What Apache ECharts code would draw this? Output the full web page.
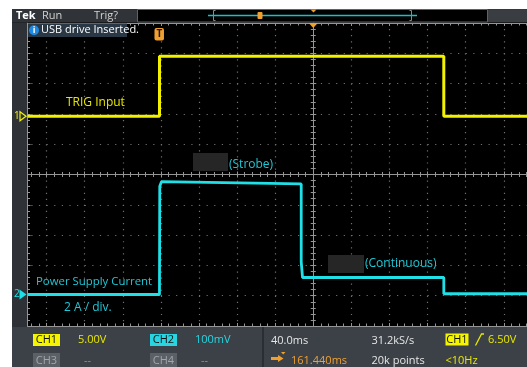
<!DOCTYPE html>
<html><head><meta charset="utf-8">
<script src="https://cdn.jsdelivr.net/npm/echarts@6/dist/echarts.min.js"></script>
<style>html,body{margin:0;padding:0;background:#fff;}#c{width:527px;height:367px;}</style>
</head><body><div id="c"></div>
<script>
// ---- data (time in ms after trigger, 40 ms/div, 15 divisions on screen) ----
const screenTimeMs = [-138.56, 461.44];
const ch1TimeMs = [-138.56, 0, 0, 298.5, 298.5, 461.44];
const ch1Volts  = [0, 0, 9.9, 9.9, 0, 0];
const ch2TimeMs = [-138.56, 0, 0.3, 2.1, 148.8, 148.8, 150.2, 298.5, 298.5, 461.44];
const ch2Amps   = [0, 0, 7.15, 7.45, 7.3, 2.15, 1.12, 1.12, 0.05, 0.05];
const ch1VoltRange = [-34.62, 15.38];   // 5 V/div, ground 1.92 div above centre
const ch2AmpRange  = [-2.08, 17.92];    // 2 A/div, ground 3.96 div below centre
const divRangeX = [-8, 8];
const divRangeY = [-5, 5];
const headerTexts = ['Tek', 'Run', 'Trig?'];
const noticeText = 'USB drive Inserted.';
const traceLabels = ['TRIG Input', '(Strobe)', '(Continuous)', 'Power Supply Current', '2 A / div.'];
const chanNames = ['CH1', 'CH2', 'CH3', 'CH4'];
const chanScales = ['5.00V', '100mV', '--', '--'];
const acqTexts = ['40.0ms', '31.2kS/s', '6.50V', '161.440ms', '20k points', '<10Hz'];

// ---- layout constants ----
const PL = 27.5, PT = 23, DX = 38.1, PH = 303, PW = 15 * DX;
const YEL = '#f2f200', CYA = '#1fe0e6', ORG = '#f0a030';
const GRID_DOT = '#707070', AX = '#959595';
const F = '"Open Sans", "Noto Sans", sans-serif';

const chart = echarts.init(document.getElementById('c'), null, {renderer: 'canvas'});
const noLab = {show: false};
const tick = (inside) => ({show: true, inside: inside, length: 3, lineStyle: {color: AX, width: 1}});
const minor = {show: true, splitNumber: 5, length: 2.5, lineStyle: {color: AX, width: 1}};
const gridBase = {outerBoundsMode: 'none', containLabel: false, show: false};

chart.setOption({
  animation: false,
  backgroundColor: '#000',
  grid: [
    Object.assign({left: PL - DX / 2, top: PT, width: PW + DX, height: PH}, gridBase),
    Object.assign({left: PL, top: PT, width: PW, height: PH}, gridBase),
    Object.assign({left: PL - DX / 2, top: PT, width: PW + DX, height: PH}, gridBase),
    Object.assign({left: PL, top: PT, width: PW, height: PH}, gridBase)
  ],
  xAxis: [
    {gridIndex: 0, type: 'value', min: divRangeX[0], max: divRangeX[1], interval: 1, position: 'bottom',
     axisLine: {show: true, onZero: true, onZeroAxisIndex: 0, lineStyle: {color: AX, width: 1}},
     axisTick: tick(true), minorTick: minor, axisLabel: noLab,
     splitLine: {show: true, lineStyle: {color: GRID_DOT, width: 1.2, type: [1.2, 4.86]}}},
    {gridIndex: 0, type: 'value', min: divRangeX[0], max: divRangeX[1], interval: 1, position: 'top',
     axisLine: {show: true, onZero: true, onZeroAxisIndex: 0, lineStyle: {color: AX, width: 1}},
     axisTick: tick(true), minorTick: minor, axisLabel: noLab, splitLine: {show: false}},
    {gridIndex: 1, type: 'value', min: screenTimeMs[0], max: screenTimeMs[1], show: false},
    {gridIndex: 2, type: 'value', min: divRangeX[0], max: divRangeX[1], interval: 1, position: 'bottom',
     axisLine: {show: true, onZero: false, lineStyle: {color: AX, width: 1}},
     axisTick: tick(true), minorTick: minor, axisLabel: noLab, splitLine: {show: false}},
    {gridIndex: 2, type: 'value', min: divRangeX[0], max: divRangeX[1], interval: 1, position: 'top',
     axisLine: {show: true, onZero: false, lineStyle: {color: AX, width: 1}},
     axisTick: tick(true), minorTick: minor, axisLabel: noLab, splitLine: {show: false}},
    {gridIndex: 3, type: 'value', min: 0, max: 1, show: false}
  ],
  yAxis: [
    {gridIndex: 0, type: 'value', min: divRangeY[0], max: divRangeY[1], interval: 1, position: 'left',
     axisLine: {show: true, onZero: true, onZeroAxisIndex: 0, lineStyle: {color: AX, width: 1}},
     axisTick: tick(true), minorTick: minor, axisLabel: noLab,
     splitLine: {show: true, lineStyle: {color: GRID_DOT, width: 1.2, type: [1.2, 6.42]}}},
    {gridIndex: 0, type: 'value', min: divRangeY[0], max: divRangeY[1], interval: 1, position: 'right',
     axisLine: {show: true, onZero: true, onZeroAxisIndex: 0, lineStyle: {color: AX, width: 1}},
     axisTick: tick(true), minorTick: minor, axisLabel: noLab, splitLine: {show: false}},
    {gridIndex: 1, type: 'value', min: ch1VoltRange[0], max: ch1VoltRange[1], show: false},
    {gridIndex: 1, type: 'value', min: ch2AmpRange[0], max: ch2AmpRange[1], position: 'right', show: false},
    {gridIndex: 2, type: 'value', min: divRangeY[0], max: divRangeY[1], show: false},
    {gridIndex: 3, type: 'value', min: divRangeY[0], max: divRangeY[1], interval: 1, position: 'left',
     axisLine: {show: true, onZero: false, lineStyle: {color: AX, width: 1}},
     axisTick: tick(true), minorTick: minor, axisLabel: noLab, splitLine: {show: false}}
  ],
  series: [
    {type: 'line', name: 'CH2', xAxisIndex: 2, yAxisIndex: 3, showSymbol: false, z: 3,
     data: ch2TimeMs.map((t, i) => [t, ch2Amps[i]]),
     lineStyle: {color: CYA, width: 2.8}},
    {type: 'line', name: 'CH1', xAxisIndex: 2, yAxisIndex: 2, showSymbol: false, z: 4,
     data: ch1TimeMs.map((t, i) => [t, ch1Volts[i]]),
     lineStyle: {color: YEL, width: 3}}
  ]
});

// ---- chrome (screen furniture) ----
const g1 = chart.convertToPixel({xAxisIndex: 2, yAxisIndex: 2}, [screenTimeMs[0], 0]);
const g2 = chart.convertToPixel({xAxisIndex: 2, yAxisIndex: 3}, [screenTimeMs[0], 0]);
const trigX = chart.convertToPixel({xAxisIndex: 2, yAxisIndex: 2}, [0, 0])[0];
const centerX = chart.convertToPixel({xAxisIndex: 0, yAxisIndex: 0}, [0, 0])[0];

const T = (text, x, y, fill, size, extra) => Object.assign({type: 'text', z: 120,
  style: Object.assign({text: text, x: x, y: y, fill: fill, font: (size || 11) + 'px ' + F, verticalAlign: 'middle'}, extra || {})});
const R = (x, y, w, h, fill, extra) => Object.assign({type: 'rect', z: 110,
  shape: {x: x, y: y, width: w, height: h, r: (extra && extra.r) || 0}, style: {fill: fill, stroke: extra && extra.stroke, lineWidth: 1}});

const els = [
  R(0, 0, 12, 367, '#ffffff'),
  R(12, 0, 515, 9, '#ffffff'),
  R(12, 9, 515, 13.5, '#303438'),
  R(137.5, 9.5, 350, 12.5, '#000000', {stroke: '#5f6367'}),
  R(488, 9.5, 39, 12.5, '#3a3e42'),
  {type: 'line', z: 118, shape: {x1: 208, y1: 15.5, x2: 417, y2: 15.5}, style: {stroke: '#19c0c8', lineWidth: 1.4}},
  {type: 'polyline', z: 118, shape: {points: [[215.5, 10.5], [213.5, 10.5], [213.5, 20.5], [215.5, 20.5]]}, style: {stroke: '#8a8a8a', fill: null}},
  {type: 'polyline', z: 118, shape: {points: [[409.5, 10.5], [411.5, 10.5], [411.5, 20.5], [409.5, 20.5]]}, style: {stroke: '#8a8a8a', fill: null}},
  Object.assign(R(257.5, 12, 5, 7, ORG, {r: 1}), {z: 119}),
  {type: 'polygon', z: 119, shape: {points: [[310.5, 9.5], [316.5, 9.5], [313.5, 12.5]]}, style: {fill: ORG}},
  T(headerTexts[0], 16, 15.5, '#ffffff', 11, {font: 'bold 11px ' + F}),
  T(headerTexts[1], 42, 15.5, '#d0d0d0', 11),
  T(headerTexts[2], 94, 15.5, '#d0d0d0', 11),
  // left strip and footer
  R(12, 22.5, 15, 305, '#2e3236'),
  R(12, 327, 515, 40, '#3b4147'),
  {type: 'line', z: 115, shape: {x1: 263, y1: 327, x2: 263, y2: 367}, style: {stroke: '#2a2e32', lineWidth: 2}},
  // notice
  R(28, 23.5, 99, 13.5, '#2a3744'),
  {type: 'circle', z: 115, shape: {cx: 34, cy: 30.2, r: 5}, style: {fill: '#1e88e5'}},
  T('i', 34, 30.4, '#ffffff', 9, {align: 'center', font: 'bold 9px ' + F}),
  T(noticeText, 41, 30.2, '#ffffff', 11),
  // trigger position markers
  Object.assign(R(trigX - 5, 28, 9.5, 12.5, ORG, {r: 2}), {z: 116}),
  T('T', trigX - 0.2, 34.3, '#1a1a1a', 10, {align: 'center', font: 'bold 10px ' + F}),
  {type: 'polygon', z: 116, shape: {points: [[centerX - 4.5, 23], [centerX + 4.5, 23], [centerX, 28]]}, style: {fill: ORG}},
  // redaction boxes
  R(193, 153, 35, 18, '#262626'),
  R(328, 255, 36, 18, '#262626'),
  // trace labels
  T(traceLabels[0], 66, 103, '#e6e600', 12),
  T(traceLabels[1], 229, 164.5, '#1fc8d6', 12),
  T(traceLabels[2], 365, 264, '#1fc8d6', 12),
  T(traceLabels[3], 36, 282, '#1fc8d6', 11.4),
  T(traceLabels[4], 64, 308, '#1fc8d6', 12),
  // ground markers
  T('1', 14, g1[1], YEL, 10),
  {type: 'polygon', z: 120, shape: {points: [[20, g1[1] - 4.5], [20, g1[1] + 4.5], [26, g1[1]]]}, style: {stroke: YEL, fill: null, lineWidth: 1.2}},
  T('2', 14, g2[1], CYA, 10),
  {type: 'polygon', z: 120, shape: {points: [[19.5, g2[1] - 5], [19.5, g2[1] + 5], [26.5, g2[1]]]}, style: {fill: CYA}},
  // footer: channels
  R(33, 334, 27, 12, '#f5f500'),
  T(chanNames[0], 46.5, 340.2, '#111', 11, {align: 'center'}),
  T(chanScales[0], 78, 340.2, '#e8e800', 11),
  R(150, 334, 27, 12, '#27d6e2'),
  T(chanNames[1], 163.5, 340.2, '#111', 11, {align: 'center'}),
  T(chanScales[1], 195, 340.2, '#27d6e2', 11),
  R(33, 353, 27, 14, '#5a6066'),
  T(chanNames[2], 46.5, 360.5, '#a0a6ab', 11, {align: 'center'}),
  T(chanScales[2], 84, 360.5, '#8a9095', 11),
  R(150, 353, 27, 14, '#5a6066'),
  T(chanNames[3], 163.5, 360.5, '#a0a6ab', 11, {align: 'center'}),
  T(chanScales[3], 201, 360.5, '#8a9095', 11),
  // footer: acquisition / trigger
  T(acqTexts[0], 271, 340.5, '#e6e6e6', 11),
  T(acqTexts[1], 371.5, 340.5, '#e6e6e6', 11),
  R(445.5, 333.5, 23, 12, '#f5f500'),
  T(chanNames[0], 457, 339.6, '#111', 11, {align: 'center'}),
  {type: 'polyline', z: 120, shape: {points: [[475.5, 345.5], [481.5, 334], [484, 334]]}, style: {stroke: '#e8e800', lineWidth: 1.3, fill: null}},
  T(acqTexts[2], 488, 339.8, '#e8e800', 11),
  {type: 'polygon', z: 120, shape: {points: [[271, 357], [278, 357], [278, 355], [283.5, 358.5], [278, 362], [278, 360], [271, 360]]}, style: {fill: ORG}},
  {type: 'polygon', z: 120, shape: {points: [[281, 352], [285.5, 352], [283.2, 354.6]]}, style: {fill: ORG}},
  T(acqTexts[3], 291, 360.8, ORG, 11),
  T(acqTexts[4], 371.5, 360.8, '#e6e6e6', 11),
  T(acqTexts[5], 445.5, 360.8, '#e8e800', 11)
];
chart.setOption({graphic: {elements: els}});
</script>
</body></html>
